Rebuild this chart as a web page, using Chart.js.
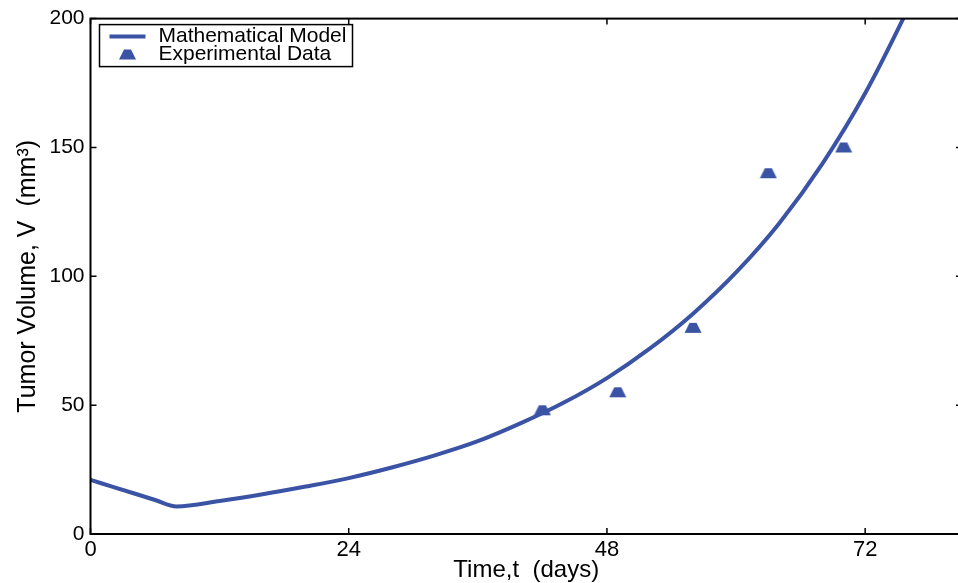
<!DOCTYPE html>
<html>

<head>
    <script src="https://cdn.jsdelivr.net/npm/chart.js"></script>
    <style>
        html, body { margin: 0; padding: 0; background: #fff; overflow: hidden; }
        #wrap { width: 972px; height: 583px; }
    </style>
</head>

<body>
    <div id="wrap">
        <canvas id="myChart" width="972" height="583"></canvas>
    </div>

    <script>
        // model curve
        const modelDays = [0, 2, 4, 6, 8, 12, 16, 20, 24, 28, 32, 36, 40, 44, 48, 52, 56, 60, 64, 68, 72, 76, 78];
        const modelVolume = [21, 18.4, 15.8, 13.2, 10.7, 12.8, 15.4, 18.4, 21.7, 25.8, 30.5, 36, 43, 51, 60.5, 72, 85.5, 101.5, 120.5, 143.5, 171, 204, 222];

        // experimental points
        const expDays = [42, 49, 56, 63, 70];
        const expVolume = [48, 55, 80, 140, 150];

        const xTicks = [0, 24, 48, 72];
        const yTicks = [0, 50, 100, 150, 200];

        const blue = '#3a53a4';
        const sans = '"Liberation Sans", Arial, sans-serif';

        // flat-topped triangle marker
        function drawMarker(c, cx, cy) {
            c.beginPath();
            c.moveTo(cx - 8.5, cy + 5);
            c.lineTo(cx - 3.5, cy - 5);
            c.lineTo(cx + 3.5, cy - 5);
            c.lineTo(cx + 8.5, cy + 5);
            c.closePath();
            c.fill();
        }
        const marker = document.createElement('canvas');
        marker.width = 18;
        marker.height = 12;
        const mctx = marker.getContext('2d');
        mctx.fillStyle = blue;
        drawMarker(mctx, 9, 6);

        // box + inward ticks + legend, like the matlab figure
        const boxPlugin = {
            id: 'box',
            afterDraw(chart) {
                const { ctx, chartArea: a, scales: { x, y } } = chart;
                ctx.save();
                ctx.strokeStyle = '#000';
                ctx.lineWidth = 2;
                ctx.strokeRect(a.left, a.top, a.right - a.left, a.bottom - a.top);

                ctx.lineWidth = 1.5;
                ctx.beginPath();
                xTicks.forEach(v => {
                    const px = x.getPixelForValue(v);
                    ctx.moveTo(px, a.bottom); ctx.lineTo(px, a.bottom - 6);
                    ctx.moveTo(px, a.top); ctx.lineTo(px, a.top + 6);
                });
                yTicks.forEach(v => {
                    const py = y.getPixelForValue(v);
                    ctx.moveTo(a.left, py); ctx.lineTo(a.left + 6, py);
                    ctx.moveTo(a.right, py); ctx.lineTo(a.right - 6, py);
                });
                ctx.stroke();

                // legend
                const lx = a.left + 9, ly = a.top + 6, lw = 253, lh = 42;
                ctx.fillStyle = '#fff';
                ctx.fillRect(lx, ly, lw, lh);
                ctx.lineWidth = 1.5;
                ctx.strokeRect(lx, ly, lw, lh);

                ctx.strokeStyle = blue;
                ctx.lineWidth = 4;
                ctx.beginPath();
                ctx.moveTo(lx + 10, ly + 12); ctx.lineTo(lx + 46, ly + 12);
                ctx.stroke();

                ctx.fillStyle = blue;
                drawMarker(ctx, lx + 28, ly + 30);

                ctx.fillStyle = '#000';
                ctx.font = '21px ' + sans;
                ctx.textBaseline = 'middle';
                ctx.fillText('Mathematical Model', lx + 59, ly + 12);
                ctx.fillText('Experimental Data', lx + 59, ly + 30);
                ctx.restore();
            }
        };

        const ctx = document.getElementById('myChart');

        const chart = new Chart(ctx, {
            type: 'line',
            data: {
                datasets: [{
                    label: 'Mathematical Model',
                    data: modelDays.map((d, i) => ({ x: d, y: modelVolume[i] })),
                    borderColor: blue,
                    borderWidth: 4,
                    pointRadius: 0,
                    cubicInterpolationMode: 'monotone',
                    fill: false
                }, {
                    label: 'Experimental Data',
                    data: expDays.map((d, i) => ({ x: d, y: expVolume[i] })),
                    showLine: false,
                    pointStyle: marker,
                    pointRadius: 9,
                    backgroundColor: blue,
                    borderColor: blue
                }]
            },
            options: {
                responsive: false,
                animation: false,
                layout: { padding: { top: 17, right: 9, left: 0, bottom: 0 } },
                plugins: {
                    legend: { display: false },
                    tooltip: { enabled: false }
                },
                scales: {
                    x: {
                        type: 'linear',
                        min: 0,
                        max: 81,
                        afterBuildTicks: s => { s.ticks = xTicks.map(v => ({ value: v })); },
                        afterFit: s => { s.height = 49; },
                        grid: { display: false, drawTicks: false },
                        border: { display: false },
                        ticks: {
                            padding: 3,
                            color: '#000',
                            font: { family: sans, size: 22 }
                        },
                        title: {
                            display: true,
                            text: 'Time,t  (days)',
                            color: '#000',
                            font: { family: sans, size: 24, lineHeight: 1 },
                            padding: { top: 0, bottom: 1 }
                        }
                    },
                    y: {
                        min: 0,
                        max: 200,
                        afterBuildTicks: s => { s.ticks = yTicks.map(v => ({ value: v })); },
                        afterFit: s => { s.width = 90.5; },
                        grid: { display: false, drawTicks: false },
                        border: { display: false },
                        ticks: {
                            padding: 6,
                            color: '#000',
                            font: { family: sans, size: 21 }
                        },
                        title: {
                            display: true,
                            text: 'Tumor Volume, V  (mm³)',
                            color: '#000',
                            font: { family: sans, size: 25, lineHeight: 1 },
                            padding: { top: 16, bottom: 0 }
                        }
                    }
                }
            },
            plugins: [boxPlugin]
        });
    </script>
</body>

</html>
